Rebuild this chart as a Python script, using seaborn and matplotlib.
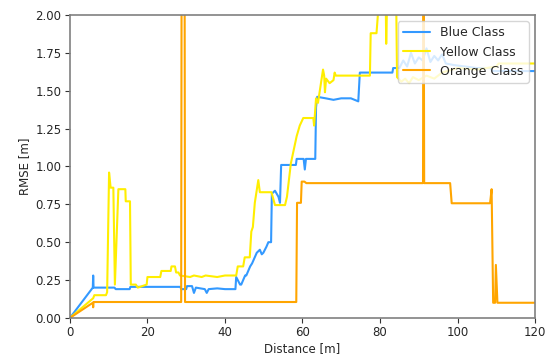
import matplotlib
matplotlib.use("Agg")
import matplotlib.pyplot as plt
import pandas as pd
import seaborn as sns

# distance [m] / RMSE [m] samples
blue_x = [0, 5.9, 6.0, 6.1, 11.5, 11.8, 15.4, 15.6, 28.5, 28.7, 30.0, 30.2, 31.5, 32.0, 32.5,
          34.8, 35.3, 35.8, 38, 40, 42.7, 42.9, 43.9, 44.2, 45.2, 45.5, 46.5, 47.0, 48.2,
          49.0, 49.5, 49.9, 50.7, 51.2, 51.9, 52.1, 52.9, 53.8, 54.2, 54.5, 58.3, 58.5,
          60.3, 60.6, 60.9, 63.3, 63.5, 63.8, 66, 68, 70, 72.5, 74.4, 74.8, 83.2, 83.4,
          85, 86, 87, 88, 89, 90, 91, 92, 93, 94, 95, 96, 97, 99, 102, 105, 108.5, 109, 120]
blue_y = [0, 0.20, 0.28, 0.20, 0.20, 0.19, 0.19, 0.205, 0.205, 0.19, 0.19, 0.21, 0.21, 0.165, 0.20,
          0.19, 0.165, 0.19, 0.195, 0.19, 0.19, 0.27, 0.22, 0.22, 0.28, 0.28, 0.34, 0.36, 0.43,
          0.45, 0.42, 0.43, 0.47, 0.50, 0.50, 0.82, 0.84, 0.80, 0.76, 1.01, 1.01, 1.05,
          1.05, 0.98, 1.05, 1.05, 1.39, 1.46, 1.45, 1.44, 1.45, 1.45, 1.43, 1.62, 1.62, 1.65,
          1.65, 1.70, 1.66, 1.75, 1.68, 1.72, 1.70, 1.78, 1.69, 1.73, 1.70, 1.74, 1.68, 1.67, 1.66, 1.65, 1.65, 1.63, 1.63]

yellow_x = [0, 6.0, 6.3, 9.3, 9.6, 10.1, 10.5, 11.2, 11.6, 12.5, 14.3, 14.4, 15.5, 15.7, 17, 17.5,
            19.8, 20.0, 23.3, 23.6, 26.0, 26.2, 27.1, 27.4, 28.0, 28.4, 31, 32, 34, 35, 38, 40,
            42.9, 43.3, 44.7, 45.1, 46.4, 46.8, 47.2, 47.7, 48.6, 49.0, 52.0, 52.9, 55.5, 56.0,
            57.0, 58.5, 59.3, 60.2, 62.8, 63.0, 63.5, 64.0, 65.3, 65.6, 65.8, 66.1, 67, 68.0,
            68.3, 68.6, 77.4, 77.6, 79.1, 79.6, 81.5, 81.6, 81.8, 84.2, 84.4, 85.5, 86.5, 87.5,
            88.5, 90, 92, 94, 96, 100, 105, 110, 110.6, 120]
yellow_y = [0, 0.13, 0.15, 0.15, 0.17, 0.96, 0.86, 0.86, 0.22, 0.85, 0.85, 0.77, 0.77, 0.22, 0.22, 0.20,
            0.22, 0.27, 0.27, 0.31, 0.31, 0.34, 0.34, 0.30, 0.30, 0.28, 0.27, 0.28, 0.27, 0.28, 0.27, 0.28,
            0.28, 0.34, 0.34, 0.40, 0.40, 0.57, 0.60, 0.76, 0.91, 0.83, 0.83, 0.745, 0.745, 0.80,
            1.02, 1.20, 1.27, 1.32, 1.32, 1.27, 1.45, 1.42, 1.64, 1.60, 1.49, 1.58, 1.55, 1.57,
            1.62, 1.60, 1.60, 1.88, 1.88, 2.05, 2.05, 1.81, 2.05, 2.05, 1.59, 1.56, 1.58, 1.55,
            1.59, 1.57, 1.60, 1.58, 1.62, 1.65, 1.64, 1.66, 1.68, 1.68]

orange_x = [0, 5.9, 6.0, 6.1, 28.7, 28.8, 29.6, 29.7, 58.4, 58.6, 59.6, 59.8, 60.5, 61, 91.1, 91.2,
            91.3, 91.4, 98.1, 98.5, 108.4, 108.8, 109.2, 109.7, 109.9, 110.3, 120]
orange_y = [0, 0.10, 0.07, 0.105, 0.105, 2.1, 2.1, 0.105, 0.105, 0.76, 0.76, 0.90, 0.90, 0.89, 0.89, 2.1,
            2.1, 0.89, 0.89, 0.757, 0.757, 0.85, 0.10, 0.10, 0.35, 0.10, 0.10]

series = [("Blue Class", blue_x, blue_y, "#3399ff"),
          ("Yellow Class", yellow_x, yellow_y, "#ffee00"),
          ("Orange Class", orange_x, orange_y, "#ffa500")]

sns.set_style("white")
plt.rcParams["font.family"] = ["DejaVu Sans"]
plt.rcParams["font.size"] = 8.5

fig, ax = plt.subplots(figsize=(5.55, 3.58), dpi=100)
fig.subplots_adjust(left=0.126, right=0.964, top=0.958, bottom=0.112)

for name, xs, ys, col in series:
    df = pd.DataFrame({"Distance": xs, "RMSE": ys})
    sns.lineplot(data=df, x="Distance", y="RMSE", sort=False, estimator=None,
                 color=col, linewidth=1.5, label=name, ax=ax)

ax.set_xlim(0, 120)
ax.set_ylim(0, 2.0)
ax.set_yticks([0, 0.25, 0.5, 0.75, 1.0, 1.25, 1.5, 1.75, 2.0])
ax.set_yticklabels([f"{v:.2f}" for v in ax.get_yticks()])
ax.set_xlabel("Distance [m]", fontsize=8.5, labelpad=2)
ax.set_ylabel("RMSE [m]", fontsize=8.5, labelpad=3)
ax.tick_params(axis="both", labelsize=8.5, length=3.5, width=0.8, color="#333333", direction="out",
               pad=2.5, bottom=True, left=True)
for s in ax.spines.values():
    s.set_color("#808080")
    s.set_linewidth(1.2)

ax.legend(loc="upper right", fontsize=9, framealpha=0.8, handlelength=2.2)

fig.savefig("out.png", dpi=100)
